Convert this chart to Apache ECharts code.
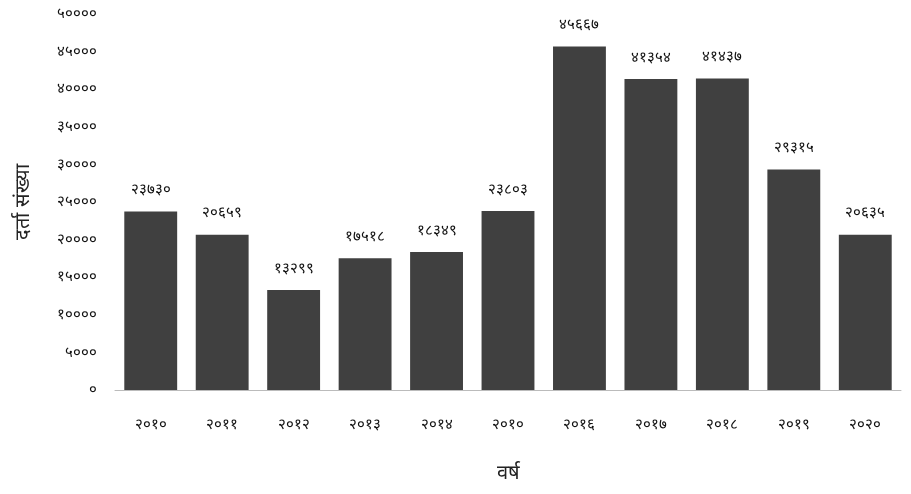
<!DOCTYPE html>
<html>
<head>
<meta charset="utf-8">
<script src="https://cdn.jsdelivr.net/npm/echarts@6/dist/echarts.min.js"></script>
<style>html,body{margin:0;padding:0;background:#fff}#c{width:911px;height:494px}</style>
</head>
<body>
<div id="c"></div>
<script>
const categories = ['२०१०','२०११','२०१२','२०१३','२०१४','२०१०','२०१६','२०१७','२०१८','२०१९','२०२०'];
const values = [23730, 20659, 13299, 17518, 18349, 23803, 45667, 41354, 41437, 29315, 20635];
const xAxisTitle = 'वर्ष';
const yAxisTitle = 'दर्ता संख्या';

const devDigits = '०१२३४५६७८९';
function toDev(n){ return String(n).replace(/[0-9]/g, d => devDigits[+d]); }

const chart = echarts.init(document.getElementById('c'), null, {renderer:'canvas'});
chart.setOption({
  animation: false,
  backgroundColor: '#fff',
  grid: {left: 115, right: 10, top: 14, bottom: 104},
  xAxis: {
    type: 'category',
    data: categories,
    name: xAxisTitle,
    nameLocation: 'middle',
    nameGap: 73,
    nameTextStyle: {fontSize: 20, color: '#222'},
    axisLine: {lineStyle: {color: '#bbb'}},
    axisTick: {show: false},
    axisLabel: {fontSize: 15, color: '#111', margin: 27}
  },
  yAxis: {
    type: 'value',
    min: 0, max: 50000, interval: 5000,
    name: yAxisTitle,
    nameLocation: 'middle',
    nameGap: 82,
    nameRotate: 90,
    nameTextStyle: {fontSize: 20, color: '#222'},
    axisLine: {show: false},
    axisTick: {show: false},
    splitLine: {show: false},
    axisLabel: {fontSize: 15, color: '#111', margin: 18, formatter: v => toDev(v)}
  },
  series: [{
    type: 'bar',
    data: values,
    barCategoryGap: '26%',
    itemStyle: {color: '#404040'},
    label: {show: true, position: 'top', distance: 14, fontSize: 15, color: '#111', formatter: p => toDev(p.value)}
  }]
});
</script>
</body>
</html>
